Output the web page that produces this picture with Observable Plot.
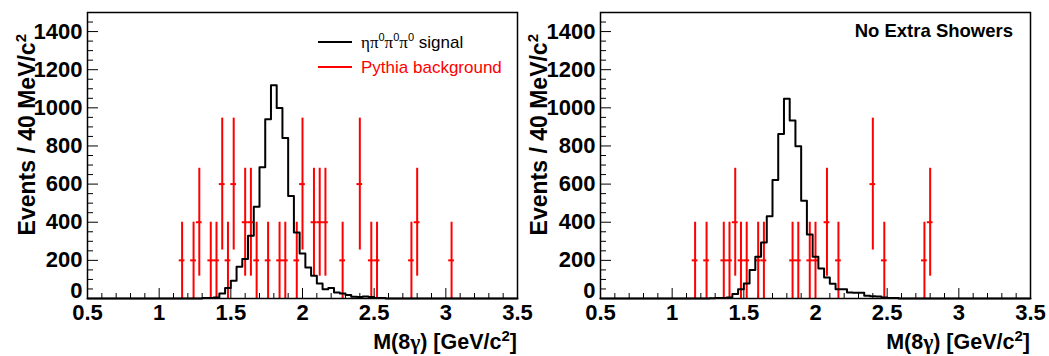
<!DOCTYPE html>
<html><head><meta charset="utf-8">
<script src="https://cdn.jsdelivr.net/npm/d3@7"></script>
<script src="https://cdn.jsdelivr.net/npm/@observablehq/plot@0.6"></script>
<style>
body{margin:0;background:#fff;}
#wrap{display:flex;width:1049px;height:356px;overflow:hidden;background:#fff;}
svg{display:block}
</style></head><body><div id="wrap"></div>
<script>
// ---- data (40 MeV bins, left edges) ----
const binWidth = 0.04;
const binLo = [1.26,1.30,1.34,1.38,1.42,1.46,1.50,1.54,1.58,1.62,1.66,1.70,1.74,1.78,1.82,1.86,1.90,1.94,1.98,2.02,2.06,2.10,2.14,2.18,2.22,2.26,2.30,2.34,2.38,2.42,2.46,2.50,2.54];
const signalAll =      [0,2,3,5,26,55,93,166,207,329,481,688,940,1118,999,842,537,346,236,163,119,79,49,55,32,26,19,9,8,10,8,3,2];
const signalNoExtra =  [1,2,3,5,23,49,79,149,219,294,431,621,863,1047,933,798,513,336,219,157,110,77,49,49,32,30,30,14,12,10,5,3,2];

const bkgAllMass  = [1.16,1.24,1.28,1.36,1.40,1.44,1.48,1.52,1.60,1.64,1.68,1.76,1.84,1.88,1.96,2.00,2.08,2.12,2.16,2.28,2.40,2.48,2.52,2.76,2.80,3.04];
const bkgAllCount = [200,200,400,200,200,600,200,600,400,400,200,200,200,200,200,600,400,400,400,200,600,200,200,200,400,200];
const bkgAllErr   = [200,200,283,200,200,346,200,346,283,283,200,200,200,200,200,346,283,283,283,200,346,200,200,200,283,200];

const bkgNoExtraMass  = [1.16,1.24,1.36,1.40,1.44,1.48,1.52,1.60,1.64,1.84,1.88,1.96,2.00,2.08,2.16,2.40,2.48,2.76,2.80];
const bkgNoExtraCount = [200,200,200,200,400,200,200,200,200,200,200,200,200,400,200,600,200,200,400];
const bkgNoExtraErr   = [200,200,200,200,283,200,200,200,200,200,200,200,200,283,200,346,200,200,283];

const xTickLabels = [0.5,1,1.5,2,2.5,3,3.5];
const yTickLabels = [200,400,600,800,1000,1200,1400];
const yZeroLabel = [0];
const xDomain = [0.5,3.5];
const yDomain = [0,1500];

const FONT = "'Liberation Sans', Arial, Helvetica, sans-serif";
const GREEK = "'Liberation Serif', 'Times New Roman', serif";

function panel({width, marginLeft, marginRight, sig, bx, by, be, bg}) {
  const H = 356, mt = 12, mb = 58;
  const ph = H - mt - mb, pw = width - marginLeft - marginRight;
  const step = [{x: xDomain[0], y: 0}]
    .concat(binLo.map((b, i) => ({x: b, y: sig[i]})))
    .concat([{x: binLo[binLo.length - 1] + binWidth, y: 0}, {x: xDomain[1], y: 0}]);
  const bkg = bx.map((x, i) => ({x, y: by[i], e: be[i]}));
  const xMinor = d3.range(6, 35).map(k => k / 10).filter(v => Math.abs(v * 2 - Math.round(v * 2)) > 1e-6);
  const yMinor = d3.range(50, 1500, 50).filter(v => v % 200 !== 0);
  const yMajor = yZeroLabel.concat(yTickLabels);
  return Plot.plot({
    width, height: H, marginTop: mt, marginBottom: mb, marginLeft, marginRight,
    x: {domain: xDomain, axis: null},
    y: {domain: yDomain, axis: null},
    style: {background: bg, fontFamily: FONT, overflow: "visible"},
    marks: [
      Plot.tickX(xMinor, {x: d => d, insetTop: ph - 5, stroke: "black", strokeWidth: 1}),
      Plot.tickX(xTickLabels, {x: d => d, insetTop: ph - 10, stroke: "black", strokeWidth: 1}),
      Plot.tickY(yMinor, {y: d => d, insetRight: pw - 6, stroke: "black", strokeWidth: 1}),
      Plot.tickY(yMajor, {y: d => d, insetRight: pw - 11, stroke: "black", strokeWidth: 1}),
      Plot.ruleX(bkg, {x: "x", y1: d => d.y - d.e, y2: d => d.y + d.e, stroke: "#ff0000", strokeWidth: 2}),
      Plot.ruleY(bkg, {y: "y", x1: d => d.x - binWidth / 2, x2: d => d.x + binWidth / 2, stroke: "#ff0000", strokeWidth: 2}),
      Plot.lineY(step, {x: "x", y: "y", curve: "step-after", stroke: "black", strokeWidth: 2}),
      Plot.frame({stroke: "black", strokeWidth: 1.5}),
      Plot.axisX(xTickLabels, {tickSize: 0, tickPadding: 6, label: null, tickFormat: d => String(d),
        fontSize: 22, fontWeight: "bold", fontFamily: FONT}),
      Plot.axisY(yTickLabels, {tickSize: 0, tickPadding: 5, label: null, tickFormat: d => String(d),
        fontSize: 22, fontWeight: "bold", fontFamily: FONT}),
      Plot.axisY(yZeroLabel, {tickSize: 0, tickPadding: 5, label: null, tickFormat: d => String(d), dy: -8,
        fontSize: 22, fontWeight: "bold", fontFamily: FONT})
    ]
  });
}

function richText(parent, parts, attrs) {
  const t = parent.append("text").attr("text-anchor", "start");
  for (const [k, v] of Object.entries(attrs)) t.attr(k, v);
  for (const p of parts) {
    const s = t.append("tspan").text(p.t);
    if (p.f) s.attr("font-family", p.f);
    if (p.size) s.attr("font-size", p.size);
    if (p.dy) s.attr("dy", p.dy);
  }
  return t;
}

function titles(svg, {ylabX, xlabX}) {
  const s = d3.select(svg);
  richText(s, [
    {t: "Events / 40 MeV/c"}, {t: "2", size: "15px", dy: "-9"}
  ], {transform: `translate(${ylabX},34) rotate(-90)`, "text-anchor": "end",
      "font-family": FONT, "font-size": "23px", "font-weight": "bold", fill: "black"});
  richText(s, [
    {t: "M(8"}, {t: "γ", f: GREEK}, {t: ") [GeV/c"}, {t: "2", size: "15px", dy: "-8"}, {t: "]", dy: "8"}
  ], {x: xlabX, y: 349, "text-anchor": "end",
      "font-family": FONT, "font-size": "21.5px", "font-weight": "bold", fill: "black"});
}

const wrap = document.getElementById("wrap");

const left = panel({width: 524, marginLeft: 87, marginRight: 7, sig: signalAll,
  bx: bkgAllMass, by: bkgAllCount, be: bkgAllErr, bg: "white"});
wrap.appendChild(left);
titles(left, {ylabX: 35, xlabX: 517});
{
  const s = d3.select(left);
  s.append("line").attr("x1", 318).attr("x2", 352).attr("y1", 42).attr("y2", 42).attr("stroke", "black").attr("stroke-width", 2);
  s.append("line").attr("x1", 318).attr("x2", 352).attr("y1", 67).attr("y2", 67).attr("stroke", "#ff0000").attr("stroke-width", 2);
  richText(s, [
    {t: "ηπ", f: GREEK}, {t: "0", size: "11px", dy: "-7"},
    {t: "π", f: GREEK, dy: "7"}, {t: "0", size: "11px", dy: "-7"},
    {t: "π", f: GREEK, dy: "7"}, {t: "0", size: "11px", dy: "-7"},
    {t: " signal", dy: "7"}
  ], {x: 361, y: 48, "font-family": FONT, "font-size": "17px", fill: "black"});
  richText(s, [{t: "Pythia background"}],
    {x: 361, y: 73, "font-family": FONT, "font-size": "17px", fill: "#ff0000"});
}

const right = panel({width: 525, marginLeft: 76, marginRight: 19, sig: signalNoExtra,
  bx: bkgNoExtraMass, by: bkgNoExtraCount, be: bkgNoExtraErr, bg: "transparent"});
wrap.appendChild(right);
titles(right, {ylabX: 23, xlabX: 506});
richText(d3.select(right), [{t: "No Extra Showers"}],
  {x: 489, y: 37, "text-anchor": "end", "font-family": FONT, "font-size": "18.5px", "font-weight": "bold", fill: "black"});
</script></body></html>
